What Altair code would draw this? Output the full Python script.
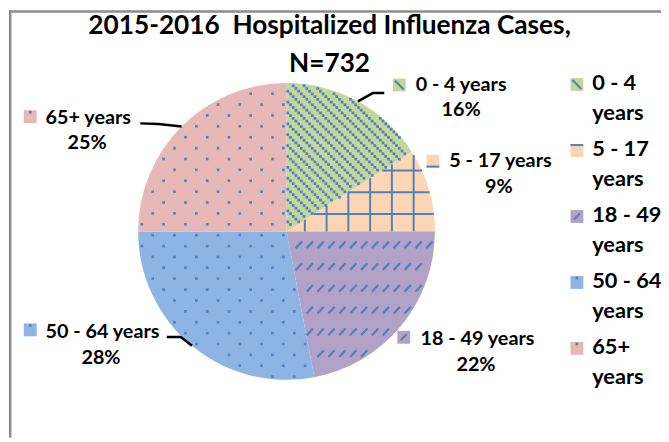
import math
import altair as alt
import pandas as pd

# ---------------- data ----------------
age_groups = ["0 - 4 years", "5 - 17 years", "18 - 49 years", "50 - 64 years", "65+ years"]
cases = [117, 66, 161, 205, 183]          # N = 732
slice_colors = ["#C3D69B", "#FCD5B5", "#B3A2C7", "#8EB4E3", "#E6B9B8"]
title_lines = ["2015-2016\u00a0 Hospitalized Influenza Cases,", "N=732"]

# ---------------- layout constants ----------------
PATTERN = "#4F81BD"
FONT = "Lato"
W, H = 660, 432
CX, CY, R = 281.5, 223.5, 150.0

# data-label layout (pixels)
lab_line1_x = [412, 446, 417, 38, 38]
lab_line2_x = [458, 496, 473, 94, 80]
lab_base_y = [81.3, 158.7, 338.7, 331, 114.7]
lab_key_x = [395.5, 429.5, 400, 22.5, 22.5]
lab_key_y = [75.5, 152.5, 330.5, 323, 107.5]
# leader lines: elbow and end point for labels that have one
leader_pts = {
    "0 - 4 years": [(368.7, 83.7), (380.3, 83.7)],
    "50 - 64 years": [(174.6, 330.3), (160.5, 330.3)],
    "65+ years": [(152, 115), (133.7, 114.3)],
}
LEG_KEY_X, LEG_TEXT_X = 575, 590.5
LEG_KEY_Y0, LEG_TEXT_Y0, LEG_STEP = 75, 81, 66.7

total = sum(cases)
bounds = [0.0]
for c in cases:
    bounds.append(bounds[-1] + c / total)

df = pd.DataFrame({"group": age_groups, "cases": cases, "idx": list(range(len(cases)))})
lay = df.copy()
lay["l1x"] = lab_line1_x
lay["l2x"] = lab_line2_x
lay["by"] = lab_base_y
lay["kx"] = lab_key_x
lay["ky"] = lab_key_y

rows = []
for i, g in enumerate(age_groups):
    if g in leader_pts:
        mid = (bounds[i] + bounds[i + 1]) / 2 * 2 * math.pi
        pts = [(CX + R * math.sin(mid), CY - R * math.cos(mid))] + leader_pts[g]
        for j, (x, y) in enumerate(pts):
            rows.append({"group": g, "pt": j, "x": x, "y": y})
leaders_df = pd.DataFrame(rows)

color_scale = alt.Scale(domain=age_groups, range=slice_colors)
px = lambda f: alt.X(f, type="quantitative", scale=None, axis=None)
py = lambda f: alt.Y(f, type="quantitative", scale=None, axis=None)


def frac_expr(xf, yf):
    return f"((atan2(datum.{xf} - {CX}, {CY} - datum.{yf}) + 2*PI) % (2*PI)) / (2*PI)"


def rad_expr(xf, yf):
    return f"sqrt(pow(datum.{xf} - {CX}, 2) + pow(datum.{yf} - {CY}, 2))"


# ---------------- pie ----------------
arc = alt.Chart(df).mark_arc(radius=R, strokeWidth=0).encode(
    theta=alt.Theta("cases:Q", stack=True),
    order=alt.Order("idx:Q"),
    color=alt.Color("group:N", scale=color_scale, legend=None),
    x=alt.value(CX),
    y=alt.value(CY),
)

# ---- pattern: narrow downward diagonal (0-4) ----
NK, NS = 28, 56
green_pat = (
    alt.Chart(alt.sequence(0, NK * NS, as_="i"))
    .transform_calculate(gk=f"floor(datum.i / {NS})")
    .transform_calculate(gs=f"datum.i % {NS}")
    .transform_calculate(px=f"{CX - R} + 11*datum.gk + 2.75*datum.gs")
    .transform_calculate(py=f"{CY - R} + 2.75*datum.gs")
    .transform_calculate(fr=frac_expr("px", "py"))
    .transform_calculate(rr=rad_expr("px", "py"))
    .transform_filter(f"datum.rr < {R - 1.5} && datum.fr < {bounds[1]} && datum.fr > 0.001")
    .mark_square(size=7.5, color=PATTERN, opacity=1, strokeWidth=0)
    .encode(x=px("px"), y=py("py"))
)

# ---- pattern: grid (5-17) ----
t1 = bounds[1] * 2 * math.pi
vgrid = (
    alt.Chart(alt.sequence(0, 7, as_="i"))
    .transform_calculate(px="300 + 22*datum.i")
    .transform_calculate(d=f"datum.px - {CX}")
    .transform_filter(f"datum.d < {R}")
    .transform_calculate(ytop=f"{CY} - min(datum.d * {math.cos(t1) / math.sin(t1)}, sqrt({R * R} - datum.d*datum.d))")
    .mark_rule(strokeWidth=2, color=PATTERN)
    .encode(x=px("px"), y=py("ytop"), y2=alt.value(CY))
)
hgrid = (
    alt.Chart(alt.sequence(0, 4, as_="i"))
    .transform_calculate(py="206 - 22*datum.i")
    .transform_calculate(h=f"{CY} - datum.py")
    .transform_calculate(xl=f"{CX} + datum.h * {math.tan(t1)}")
    .transform_calculate(xr=f"{CX} + sqrt({R * R} - datum.h*datum.h)")
    .transform_filter("datum.xl < datum.xr")
    .mark_rule(strokeWidth=2, color=PATTERN)
    .encode(x=px("xl"), x2=alt.X2("xr"), y=py("py"))
)

# ---- pattern: dashed upward diagonal (18-49) ----
NDK, NDJ = 16, 9
dash_pat = (
    alt.Chart(alt.sequence(0, NDK * NDJ, as_="i"))
    .transform_calculate(gk=f"datum.i % {NDK}")
    .transform_calculate(gj=f"floor(datum.i / {NDK})")
    .transform_calculate(ax="283 + 11*datum.gk - 3.2")
    .transform_calculate(ay="215 + 22*datum.gj + 3.4")
    .transform_calculate(bx="datum.ax + 6.4")
    .transform_calculate(by="datum.ay - 6.8")
    .transform_calculate(fa=frac_expr("ax", "ay"))
    .transform_calculate(ra=rad_expr("ax", "ay"))
    .transform_calculate(fb=frac_expr("bx", "by"))
    .transform_calculate(rb=rad_expr("bx", "by"))
    .transform_filter(
        f"datum.ra < {R - 1} && datum.rb < {R - 1} && datum.fa >= {bounds[2]} && datum.fa < {bounds[3]}"
        f" && datum.fb >= {bounds[2]} && datum.fb < {bounds[3]}"
    )
    .mark_rule(strokeWidth=2.3, color=PATTERN)
    .encode(x=px("ax"), y=py("ay"), x2=alt.X2("bx"), y2=alt.Y2("by"))
)

# ---- pattern: dotted (50-64, 65+) ----
NXd, NYd = 11, 28
dot_pat = (
    alt.Chart(alt.sequence(0, NXd * NYd, as_="i"))
    .transform_calculate(gk=f"datum.i % {NXd}")
    .transform_calculate(gj=f"floor(datum.i / {NXd})")
    .transform_calculate(px="113.3 + 22*datum.gk + (datum.gj % 2 == 0 ? 11 : 0)")
    .transform_calculate(py="73.3 + 11*datum.gj")
    .transform_calculate(fr=frac_expr("px", "py"))
    .transform_calculate(rr=rad_expr("px", "py"))
    .transform_filter(f"datum.rr < {R - 2} && datum.fr >= {bounds[3]}")
    .mark_square(size=7, color=PATTERN, opacity=1, strokeWidth=0)
    .encode(x=px("px"), y=py("py"))
)

# ---------------- leader lines ----------------
leaders = alt.Chart(leaders_df).mark_line(color="black", strokeWidth=2.5).encode(
    x=px("x"), y=py("y"), detail="group:N", order="pt:Q"
)


# ---------------- key swatches (label keys + legend keys) ----------------
def key_layers(base):
    sq = base.mark_square(size=169, opacity=1, strokeWidth=0).encode(
        x=px("kx"), y=py("ky"), color=alt.Color("group:N", scale=color_scale, legend=None)
    )
    # small pattern hints inside the swatches
    diag = base.transform_filter("datum.idx == 0").transform_calculate(
        ax="datum.kx - 4.5", ay="datum.ky - 4.5", bx="datum.kx + 4.5", by="datum.ky + 4.5"
    ).mark_rule(color=PATTERN, strokeWidth=2).encode(
        x=px("ax"), y=py("ay"), x2=alt.X2("bx"), y2=alt.Y2("by")
    )
    bar = base.transform_filter("datum.idx == 1").transform_calculate(
        ax="datum.kx - 6.5", bx="datum.kx + 6.5", ay="datum.ky + datum.bar_dy"
    ).mark_rule(color=PATTERN, strokeWidth=2).encode(
        x=px("ax"), x2=alt.X2("bx"), y=py("ay")
    )
    dash = base.transform_filter("datum.idx == 2").transform_calculate(
        ax="datum.kx - 3", ay="datum.ky + 3", bx="datum.kx + 3", by="datum.ky - 3"
    ).mark_rule(color=PATTERN, strokeWidth=2).encode(
        x=px("ax"), y=py("ay"), x2=alt.X2("bx"), y2=alt.Y2("by")
    )
    dot = base.transform_filter("datum.idx >= 3").transform_calculate(
        ay="datum.ky - 4.5"
    ).mark_square(size=7, color=PATTERN, opacity=1, strokeWidth=0).encode(
        x=px("kx"), y=py("ay")
    )
    return [sq, diag, bar, dash, dot]


lay["bar_dy"] = 5.5
lab_base = alt.Chart(lay)
lab1 = lab_base.mark_text(
    align="left", baseline="alphabetic", font=FONT, fontSize=20, fontWeight="bold", color="black"
).encode(x=px("l1x"), y=py("by"), text="group:N")
lab2 = (
    lab_base.transform_joinaggregate(tot="sum(cases)")
    .transform_calculate(pct="format(datum.cases / datum.tot, '.0%')")
    .transform_calculate(y2="datum.by + 26")
    .mark_text(align="center", baseline="alphabetic", font=FONT, fontSize=20, fontWeight="bold", color="black")
    .encode(x=px("l2x"), y=py("y2"), text="pct:N")
)

# ---------------- legend ----------------
leg = df.copy()
leg["bar_dy"] = -5.5
leg_base = alt.Chart(leg).transform_calculate(
    kx=f"{LEG_KEY_X}",
    ky=f"{LEG_KEY_Y0} + {LEG_STEP}*datum.idx",
    ty=f"{LEG_TEXT_Y0} + {LEG_STEP}*datum.idx",
    lbl="replace(datum.group, ' years', '\\nyears')",
)
leg_text = leg_base.mark_text(
    align="left", baseline="alphabetic", font=FONT, fontSize=22, fontWeight="bold",
    color="black", lineBreak="\n", lineHeight=29.5,
).encode(x=alt.value(LEG_TEXT_X), y=py("ty"), text="lbl:N")

# ---------------- frame ----------------
one = pd.DataFrame({"k": [0]})
frame_left = alt.Chart(one).mark_rule(color="#8C8C8C", strokeWidth=2.5).encode(
    x=alt.value(2.2), y=alt.value(0), y2=alt.value(H)
)
frame_top = alt.Chart(one).mark_rule(color="#8C8C8C", strokeWidth=2.5).encode(
    x=alt.value(1), x2=alt.value(W), y=alt.value(1.2)
)

chart = alt.layer(
    arc, green_pat, vgrid, hgrid, dash_pat, dot_pat, leaders,
    *key_layers(lab_base), lab1, lab2,
    *key_layers(leg_base), leg_text,
    frame_left, frame_top,
).properties(
    width=W,
    height=H,
    autosize="none",
    padding=0,
    title=alt.TitleParams(
        text=title_lines, font=FONT, fontSize=26.5, fontWeight="bold", color="black",
        anchor="middle", lineHeight=38.5, dx=-5, dy=69, offset=0,
    ),
).configure_view(stroke=None)

chart.save("out.html", embed_options={"renderer": "svg", "actions": False})
